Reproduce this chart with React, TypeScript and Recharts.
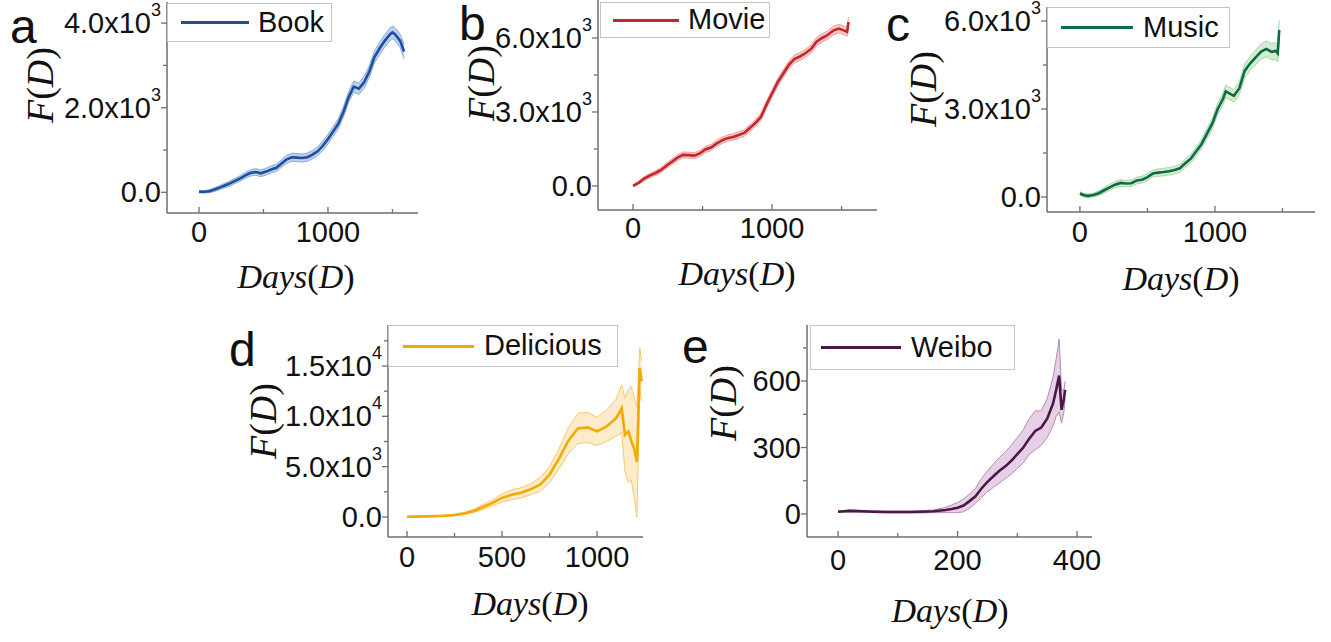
import React from "react"
import { ComposedChart, Area, Line, XAxis, YAxis, Legend } from "recharts"

// values
const bookDays = [0, 40, 80, 120, 160, 200, 240, 280, 320, 360, 400, 440, 480, 520, 560, 600, 640, 680, 720, 760, 800, 840, 880, 920, 960, 1000, 1040, 1080, 1120, 1160, 1200, 1240, 1280, 1320, 1360, 1400, 1440, 1480, 1500, 1520, 1560, 1590]
const bookMean = [15, 12, 25, 65, 110, 160, 210, 270, 330, 400, 460, 480, 450, 490, 540, 580, 680, 780, 830, 820, 810, 830, 890, 970, 1100, 1260, 1440, 1620, 1900, 2250, 2500, 2450, 2600, 2850, 3200, 3400, 3580, 3730, 3780, 3740, 3580, 3330]
const bookLow = [-15, -18, -10, 20, 60, 105, 150, 210, 265, 330, 385, 400, 370, 410, 455, 495, 590, 685, 735, 725, 715, 730, 790, 865, 990, 1145, 1325, 1500, 1775, 2120, 2365, 2315, 2460, 2710, 3055, 3255, 3430, 3580, 3630, 3585, 3420, 3160]
const bookHigh = [45, 42, 60, 110, 160, 215, 270, 330, 395, 470, 535, 560, 530, 570, 625, 665, 770, 875, 925, 915, 905, 930, 990, 1075, 1210, 1375, 1555, 1740, 2025, 2380, 2635, 2585, 2740, 2990, 3345, 3545, 3730, 3880, 3930, 3895, 3740, 3500]

const movieDays = [0, 40, 80, 120, 160, 200, 240, 280, 320, 360, 400, 440, 480, 520, 560, 600, 640, 680, 720, 760, 800, 840, 880, 920, 960, 1000, 1040, 1080, 1120, 1160, 1200, 1240, 1280, 1320, 1360, 1400, 1440, 1480, 1520, 1540, 1550]
const movieMean = [0, 130, 300, 420, 520, 640, 820, 980, 1150, 1260, 1250, 1230, 1320, 1480, 1560, 1720, 1850, 1940, 1990, 2070, 2150, 2350, 2550, 2800, 3300, 3750, 4200, 4550, 4900, 5150, 5250, 5380, 5550, 5850, 6000, 6120, 6300, 6380, 6300, 6250, 6650]
const movieLow = [-40, 70, 220, 330, 420, 540, 710, 870, 1030, 1140, 1130, 1110, 1200, 1355, 1435, 1590, 1720, 1810, 1860, 1935, 2015, 2210, 2410, 2655, 3150, 3600, 4045, 4395, 4740, 4990, 5090, 5215, 5385, 5680, 5830, 5950, 6125, 6205, 6120, 6070, 6460]
const movieHigh = [40, 190, 380, 510, 620, 740, 930, 1090, 1270, 1380, 1370, 1350, 1440, 1605, 1685, 1850, 1980, 2070, 2120, 2205, 2285, 2490, 2690, 2945, 3450, 3900, 4355, 4705, 5060, 5310, 5410, 5545, 5715, 6020, 6170, 6290, 6475, 6555, 6480, 6430, 6840]

const musicDays = [0, 30, 60, 100, 140, 180, 220, 260, 300, 340, 380, 420, 460, 500, 540, 580, 620, 660, 700, 740, 780, 820, 860, 900, 940, 980, 1020, 1060, 1080, 1100, 1140, 1180, 1220, 1260, 1300, 1340, 1380, 1420, 1450, 1465, 1476]
const musicMean = [120, 60, 40, 70, 130, 230, 330, 420, 480, 460, 470, 560, 590, 680, 800, 830, 850, 880, 920, 980, 1150, 1300, 1550, 1800, 2150, 2500, 3000, 3350, 3600, 3550, 3450, 3700, 4300, 4550, 4750, 4950, 5050, 4950, 4980, 4900, 5700]
const musicLow = [60, 0, -20, 0, 50, 140, 230, 320, 370, 350, 360, 445, 475, 560, 680, 705, 725, 750, 790, 845, 1010, 1155, 1400, 1640, 1980, 2320, 2810, 3150, 3390, 3340, 3240, 3480, 4070, 4310, 4500, 4690, 4780, 4670, 4690, 4600, 5380]
const musicHigh = [180, 120, 100, 140, 210, 320, 430, 520, 590, 570, 580, 675, 705, 800, 920, 955, 975, 1010, 1050, 1115, 1290, 1445, 1700, 1960, 2320, 2680, 3190, 3550, 3810, 3760, 3660, 3920, 4530, 4790, 5000, 5210, 5320, 5230, 5270, 5200, 6020]

const deliciousDays = [0, 50, 100, 150, 200, 250, 300, 350, 400, 450, 500, 550, 600, 650, 700, 750, 800, 850, 900, 950, 1000, 1050, 1100, 1130, 1147, 1165, 1180, 1195, 1210, 1225, 1235]
const deliciousMean = [20, 40, 60, 90, 130, 200, 350, 600, 1000, 1400, 1900, 2200, 2400, 2750, 3200, 4200, 5800, 7600, 8800, 8900, 8500, 9000, 9800, 10800, 8150, 8500, 7600, 6800, 5500, 14800, 13500]
const deliciousLow = [0, 10, 20, 40, 70, 130, 250, 450, 750, 1100, 1500, 1700, 1900, 2200, 2550, 3400, 4800, 6300, 7300, 7400, 7100, 7500, 8000, 8400, 4500, 3400, 3700, 2000, 0, 12500, 11500]
const deliciousHigh = [40, 70, 100, 140, 190, 270, 450, 750, 1250, 1700, 2300, 2700, 2900, 3300, 3900, 5000, 6800, 8900, 10300, 10400, 9900, 10600, 11700, 13100, 11800, 12600, 13000, 12000, 10900, 16800, 15500]

const weiboDays = [0, 10, 20, 40, 60, 80, 100, 120, 140, 160, 180, 190, 200, 210, 220, 230, 240, 250, 260, 270, 280, 290, 300, 310, 320, 330, 340, 350, 360, 365, 370, 374, 378, 380]
const weiboMean = [10, 12, 14, 12, 10, 9, 9, 9, 10, 12, 18, 22, 28, 38, 58, 80, 115, 145, 170, 195, 215, 240, 270, 300, 340, 375, 390, 430, 500, 560, 625, 470, 520, 560]
const weiboLow = [6, 8, 10, 8, 6, 5, 5, 5, 5, 6, 6, 6, 6, 10, 25, 48, 75, 100, 120, 140, 160, 180, 205, 230, 270, 290, 310, 345, 400, 440, 460, 410, 460, 520]
const weiboHigh = [14, 16, 18, 16, 14, 13, 13, 13, 15, 18, 30, 40, 52, 68, 90, 115, 160, 195, 225, 255, 280, 310, 345, 380, 430, 465, 465, 520, 620, 700, 790, 560, 560, 600]

const AXIS = "#6e6e6e"
const SANS = "'Liberation Sans', Arial, sans-serif"
const SERIF = "'Liberation Serif', 'Times New Roman', serif"

type Sup = { base: string; exp?: string }

function rowsOf(days: number[], mean: number[], low: number[], high: number[]) {
  return days.map((d, i) => ({ day: d, mean: mean[i], band: [low[i], high[i]] }))
}

function makeYTick(labels: Record<number, Sup>) {
  return (props: any) => {
    const { x, y, payload } = props
    const lab = labels[payload.value]
    return (
      <g>
        <line x1={x} x2={x - (lab ? 6 : 4)} y1={y} y2={y} stroke={AXIS} strokeWidth={1.3} />
        {lab && (
          <text x={x - 6} y={y} textAnchor="end" dominantBaseline="central" fontFamily={SANS} fontSize={29} fill="#111">
            {lab.base}
            {lab.exp && <tspan dy={-13} fontSize={18}>{lab.exp}</tspan>}
          </text>
        )}
      </g>
    )
  }
}

function makeXTick(labels: Record<number, string>, dy: number) {
  return (props: any) => {
    const { x, y, payload } = props
    const lab = labels[payload.value]
    return (
      <g>
        <line x1={x} x2={x} y1={y} y2={y - (lab !== undefined ? 6 : 4)} stroke={AXIS} strokeWidth={1.3} />
        {lab !== undefined && (
          <text x={x} y={y + dy} textAnchor="middle" dominantBaseline="central" fontFamily={SANS} fontSize={29} fill="#111">
            {lab}
          </text>
        )}
      </g>
    )
  }
}

type Box = { left: number; top: number; width: number; height: number; sample: number; sampleW: number; text: number }

function LegendBox({ box, color, name }: { box: Box; color: string; name: string }) {
  return (
    <div style={{ boxSizing: "border-box", position: "relative", width: box.width, height: box.height, border: "1px solid #c4c4c4", background: "#fff" }}>
      <div style={{ position: "absolute", left: box.sample - box.left, top: "50%", marginTop: -1.5, width: box.sampleW, height: 3, background: color }} />
      <span style={{ position: "absolute", left: box.text - box.left, top: "50%", transform: "translateY(-52%)", fontFamily: SANS, fontSize: 29, lineHeight: 1, color: "#111", whiteSpace: "nowrap" }}>
        {name}
      </span>
    </div>
  )
}

type PanelProps = {
  name: string
  rows: { day: number; mean: number; band: number[] }[]
  color: string
  bandFill: string
  bandStroke: string
  plot: { left: number; top: number; right: number; bottom: number }
  xDomain: [number, number]
  yDomain: [number, number]
  xTicks: number[]
  yTicks: number[]
  xLabels: Record<number, string>
  yLabels: Record<number, Sup>
  xDy: number
  legend: Box
}

function Panel(p: PanelProps) {
  const chartLeft = p.plot.left - 150
  const chartTop = p.plot.top - 10
  const width = p.plot.right - p.plot.left + 160
  const height = p.plot.bottom - p.plot.top + 70
  return (
    <div style={{ position: "absolute", left: chartLeft, top: chartTop }}>
      <ComposedChart width={width} height={height} data={p.rows} margin={{ top: 10, right: 10, bottom: 0, left: 0 }}>
        <XAxis
          dataKey="day"
          type="number"
          domain={p.xDomain}
          allowDataOverflow
          ticks={p.xTicks}
          interval={0}
          height={60}
          tickSize={0}
          tickMargin={0}
          tickLine={false}
          axisLine={{ stroke: AXIS, strokeWidth: 1.5 }}
          tick={makeXTick(p.xLabels, p.xDy)}
        />
        <YAxis
          type="number"
          domain={p.yDomain}
          allowDataOverflow
          ticks={p.yTicks}
          interval={0}
          width={150}
          tickSize={0}
          tickMargin={0}
          tickLine={false}
          axisLine={{ stroke: AXIS, strokeWidth: 1.5 }}
          tick={makeYTick(p.yLabels)}
        />
        <Area dataKey="band" type="linear" fill={p.bandFill} fillOpacity={0.45} stroke={p.bandStroke} strokeWidth={1} isAnimationActive={false} />
        <Line dataKey="mean" type="linear" stroke={p.color} strokeWidth={2.6} dot={false} isAnimationActive={false} />
        <Legend
          layout="vertical"
          align="center"
          verticalAlign="middle"
          wrapperStyle={{ left: p.legend.left - chartLeft, top: p.legend.top - chartTop, width: p.legend.width, height: p.legend.height }}
          content={() => <LegendBox box={p.legend} color={p.color} name={p.name} />}
        />
      </ComposedChart>
    </div>
  )
}

const thousands = { 0: "0", 1000: "1000" }

const panels: PanelProps[] = [
  {
    name: "Book",
    rows: rowsOf(bookDays, bookMean, bookLow, bookHigh),
    color: "#1d4f9c",
    bandFill: "#6f94d4",
    bandStroke: "#8eaee0",
    plot: { left: 167, top: 2, right: 418, bottom: 213 },
    xDomain: [-248, 1698],
    yDomain: [-489, 4499],
    xTicks: [0, 500, 1000, 1500],
    yTicks: [0, 1000, 2000, 3000, 4000],
    xLabels: thousands,
    yLabels: { 0: { base: "0.0" }, 2000: { base: "2.0x10", exp: "3" }, 4000: { base: "4.0x10", exp: "3" } },
    xDy: 19,
    legend: { left: 167, top: 3, width: 165, height: 39, sample: 180, sampleW: 68, text: 257 },
  },
  {
    name: "Movie",
    rows: rowsOf(movieDays, movieMean, movieLow, movieHigh),
    color: "#c1272d",
    bandFill: "#ec8585",
    bandStroke: "#f0a0a0",
    plot: { left: 598, top: 0, right: 877, bottom: 210 },
    xDomain: [-252, 1755],
    yDomain: [-973, 7540],
    xTicks: [0, 500, 1000, 1500],
    yTicks: [0, 1500, 3000, 4500, 6000],
    xLabels: thousands,
    yLabels: { 0: { base: "0.0" }, 3000: { base: "3.0x10", exp: "3" }, 6000: { base: "6.0x10", exp: "3" } },
    xDy: 18,
    legend: { left: 600, top: 2, width: 170, height: 36, sample: 612, sampleW: 66, text: 687 },
  },
  {
    name: "Music",
    rows: rowsOf(musicDays, musicMean, musicLow, musicHigh),
    color: "#0d6b46",
    bandFill: "#9fd49a",
    bandStroke: "#a9d8a4",
    plot: { left: 1047, top: 7, right: 1315, bottom: 212 },
    xDomain: [-244, 1741],
    yDomain: [-511, 6477],
    xTicks: [0, 500, 1000, 1500],
    yTicks: [0, 1500, 3000, 4500, 6000],
    xLabels: thousands,
    yLabels: { 0: { base: "0.0" }, 3000: { base: "3.0x10", exp: "3" }, 6000: { base: "6.0x10", exp: "3" } },
    xDy: 20,
    legend: { left: 1047, top: 7, width: 183, height: 41, sample: 1060, sampleW: 72, text: 1142 },
  },
  {
    name: "Delicious",
    rows: rowsOf(deliciousDays, deliciousMean, deliciousLow, deliciousHigh),
    color: "#f2a900",
    bandFill: "#fbd28a",
    bandStroke: "#f8c870",
    plot: { left: 388, top: 325, right: 643, bottom: 537 },
    xDomain: [-100, 1242],
    yDomain: [-1987, 19073],
    xTicks: [0, 250, 500, 750, 1000],
    yTicks: [0, 2500, 5000, 7500, 10000, 12500, 15000, 17500],
    xLabels: { 0: "0", 500: "500", 1000: "1000" },
    yLabels: { 0: { base: "0.0" }, 5000: { base: "5.0x10", exp: "3" }, 10000: { base: "1.0x10", exp: "4" }, 15000: { base: "1.5x10", exp: "4" } },
    xDy: 20,
    legend: { left: 388, top: 325, width: 230, height: 42, sample: 402, sampleW: 71, text: 483 },
  },
  {
    name: "Weibo",
    rows: rowsOf(weiboDays, weiboMean, weiboLow, weiboHigh),
    color: "#4b1748",
    bandFill: "#c596c5",
    bandStroke: "#b889b8",
    plot: { left: 807, top: 325, right: 1092, bottom: 537 },
    xDomain: [-52, 425],
    yDomain: [-104, 853],
    xTicks: [0, 100, 200, 300, 400],
    yTicks: [0, 150, 300, 450, 600, 750],
    xLabels: { 0: "0", 200: "200", 400: "400" },
    yLabels: { 0: { base: "0" }, 300: { base: "300" }, 600: { base: "600" } },
    xDy: 23,
    legend: { left: 810, top: 325, width: 205, height: 45, sample: 820, sampleW: 80, text: 910 },
  },
]

const letters = [
  { t: "a", x: 10, y: 43 },
  { t: "b", x: 459, y: 40 },
  { t: "c", x: 886, y: 41 },
  { t: "d", x: 229, y: 366 },
  { t: "e", x: 682, y: 363 },
]
const yTitles = [
  { x: 40, y: 85 },
  { x: 481, y: 83 },
  { x: 923, y: 89 },
  { x: 263, y: 421 },
  { x: 723, y: 403 },
]
const xTitles = [
  { x: 296, y: 288 },
  { x: 737, y: 285 },
  { x: 1181, y: 290 },
  { x: 530, y: 615 },
  { x: 950, y: 622 },
]

export default function App() {
  return (
    <div style={{ position: "absolute", left: 0, top: 0, width: 1331, height: 642, background: "#fff", overflow: "hidden" }}>
      {panels.map((p) => (
        <Panel key={p.name} {...p} />
      ))}
      <svg width={1331} height={642} style={{ position: "absolute", left: 0, top: 0, pointerEvents: "none" }}>
        {letters.map((l) => (
          <text key={l.t} x={l.x} y={l.y} fontFamily={SANS} fontSize={48} fill="#111">
            {l.t}
          </text>
        ))}
        {yTitles.map((t, i) => (
          <text key={"y" + i} x={t.x} y={t.y} transform={`rotate(-90 ${t.x} ${t.y})`} textAnchor="middle" dominantBaseline="central" fontFamily={SERIF} fontSize={38} fill="#111">
            <tspan fontStyle="italic">F</tspan>(<tspan fontStyle="italic">D</tspan>)
          </text>
        ))}
        {xTitles.map((t, i) => (
          <text key={"x" + i} x={t.x} y={t.y} textAnchor="middle" fontFamily={SERIF} fontSize={34} fill="#111">
            <tspan fontStyle="italic">Days</tspan>(<tspan fontStyle="italic">D</tspan>)
          </text>
        ))}
      </svg>
    </div>
  )
}
